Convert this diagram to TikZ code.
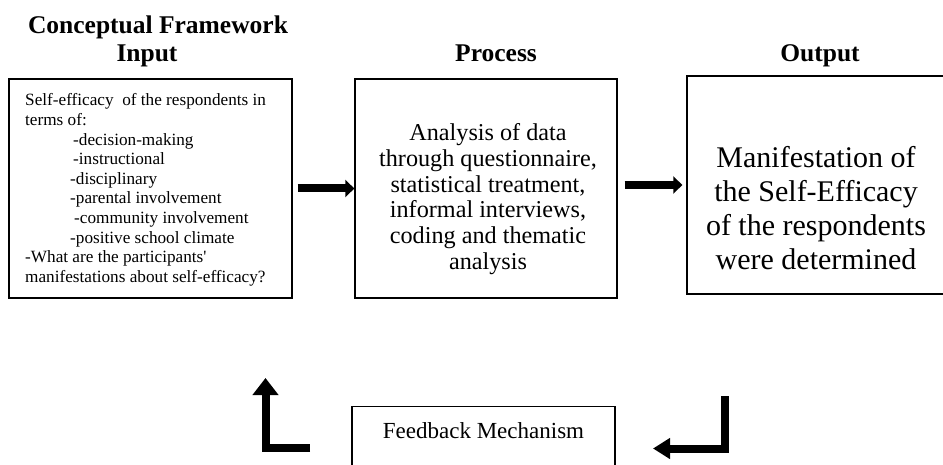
\documentclass[tikz,border=0pt]{standalone}
\usepackage{fontspec}
\setmainfont{Liberation Serif}
\usetikzlibrary{arrows.meta}

\tikzset{
  box/.style={draw=black, line width=1.3pt, fill=white, inner sep=0pt},
  heading/.style={font=\fontsize{25.5}{27}\selectfont\bfseries, inner sep=0pt, anchor=base},
  fat/.style={line width=8pt, line join=miter,
    -{Triangle[length=9pt, width=17pt]}},
  elbow/.style={line width=8pt, line join=miter,
    -{Triangle[length=17pt, width=25pt]}},
}

\begin{document}
\begin{tikzpicture}[x=1pt, y=-1pt]
  \clip (0,0) rectangle (943,465);
  \fill[white] (0,0) rectangle (943,465);

  % column headings
  \node[heading] (title) at (158,34) {Conceptual Framework};
  \node[heading] (hin)   at (147,62) {Input};
  \node[heading] (hproc) at (496,62) {Process};
  \node[heading] (hout)  at (820,62) {Output};

  % the three main boxes
  \node[box, minimum width=283pt, minimum height=219pt] (inbox)   at (150.5,188.5) {};
  \node[box, minimum width=262pt, minimum height=219pt] (procbox) at (486,188.5) {};
  \node[box, minimum width=270pt, minimum height=218pt] (outbox)  at (822,185) {};

  % input text
  \node[anchor=west, align=left, inner sep=0pt,
        font=\fontsize{17.2}{19.6}\selectfont] (intext) at (25,190)
  {Self-efficacy\ \ of the respondents in\\
   terms of:\\
   \hspace*{48pt}-decision-making\\
   \hspace*{48pt}-instructional\\
   \hspace*{45pt}-disciplinary\\
   \hspace*{45pt}-parental involvement\\
   \hspace*{49pt}-community involvement\\
   \hspace*{45pt}-positive school climate\\
   -What are the participants\textquotesingle\\
   manifestations about self-efficacy?};

  % process text
  \node[align=center, inner sep=0pt,
        font=\fontsize{24.2}{25.8}\selectfont] (proctext) at (488,199)
  {Analysis of data\\
   through questionnaire,\\
   statistical treatment,\\
   informal interviews,\\
   coding and thematic\\
   analysis};

  % output text
  \node[align=center, inner sep=0pt,
        font=\fontsize{30}{33.8}\selectfont] (outtext) at (816,208)
  {Manifestation of\\
   the Self-Efficacy\\
   of the respondents\\
   were determined};

  % feedback box, running past the lower edge
  \node[box, anchor=north, minimum width=263pt, inner ysep=20pt,
        text height=12pt, text depth=50pt,
        font=\fontsize{23}{25}\selectfont] (fbbox) at (483.5,406)
  {Feedback Mechanism};

  % arrows between the boxes
  \draw[fat] ([xshift=5pt]inbox.east) -- (procbox.west);
  \draw[fat] ([xshift=7pt]procbox.east |- outbox.west) -- ([xshift=-4pt]outbox.west);

  % feedback elbow arrows
  \coordinate (lstart) at (310,448);
  \coordinate (lcorner) at (265.5,448);
  \coordinate (lend) at (265.5,378);
  \coordinate (rstart) at (724.5,396);
  \coordinate (rcorner) at (724.5,448.5);
  \coordinate (rend) at (653,448.5);
  \draw[elbow] (lstart) -- (lcorner) -- (lend);
  \draw[elbow, -{Triangle[length=17pt, width=20pt]}] (rstart) -- (rcorner) -- (rend);
\end{tikzpicture}
\end{document}
